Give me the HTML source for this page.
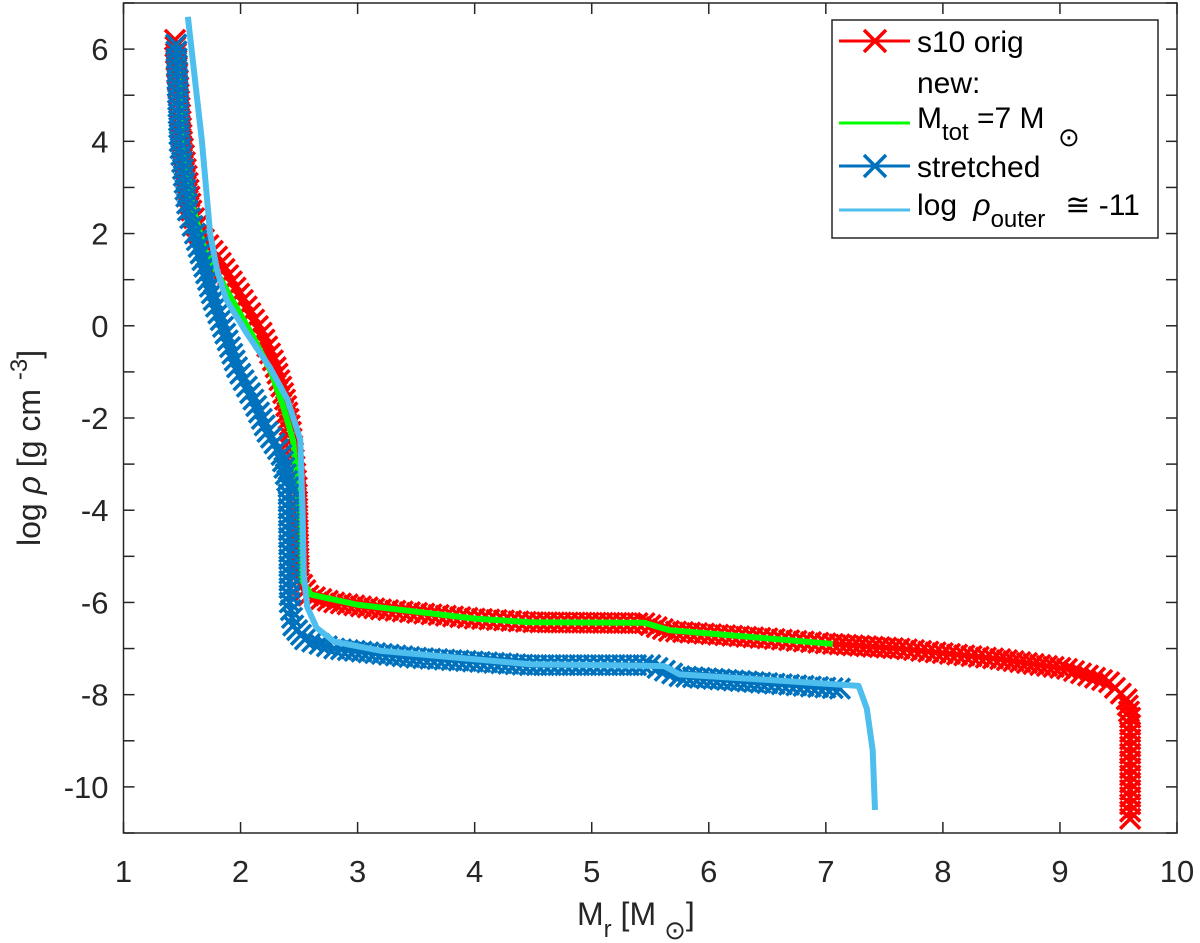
<!DOCTYPE html>
<html><head><meta charset="utf-8"><style>
body{margin:0;background:#fff}
svg{display:block;font-family:"Liberation Sans",sans-serif}
</style></head><body>
<svg id="chart" width="1200" height="943" viewBox="0 0 1200 943">
<g id="marks"></g>
<g id="axes"></g>
</svg>
<script>
const xTicks=[1,2,3,4,5,6,7,8,9,10];
const yTicks=[-10,-8,-6,-4,-2,0,2,4,6];
const yMinor=[-11,-10,-9,-8,-7,-6,-5,-4,-3,-2,-1,0,1,2,3,4,5,6,7];
const origX=[1.44,1.5,1.58,1.65,1.8,2.02,2.18,2.3,2.38,2.43,2.48,2.5,2.58,2.8,3.2,4,4.5,5.45,5.66,6.5,7.06,7.63,8.49,9.06,9.42,9.57,9.6,9.6];
const origY=[6.2,4,2.5,2,1.5,0.56,-0.15,-0.9,-1.6,-2.3,-3.5,-5.5,-5.85,-6.0,-6.15,-6.35,-6.43,-6.45,-6.62,-6.78,-6.9,-7.0,-7.23,-7.44,-7.73,-8.1,-8.5,-10.69];
const newX=[1.45,1.5,1.6,1.7,1.92,2.1,2.26,2.37,2.45,2.5,2.52,2.6,3,4,4.47,5.45,5.66,7.06];
const newY=[6.1,4,2.5,1.6,0.6,-0.2,-1.0,-1.8,-2.5,-4,-5.5,-5.83,-6.05,-6.35,-6.43,-6.44,-6.6,-6.9];
const strX=[1.45,1.48,1.55,1.61,1.77,1.97,2.11,2.23,2.35,2.41,2.42,2.45,2.55,2.8,3.5,4.47,5.5,5.75,6.5,7.12];
const strY=[6.1,4,2.5,2,0.56,-0.9,-1.6,-2.3,-2.8,-3.5,-6.0,-6.5,-6.8,-7.0,-7.2,-7.36,-7.36,-7.6,-7.75,-7.87];
const outX=[1.55,1.67,1.74,1.8,1.88,2.05,2.25,2.4,2.51,2.53,2.54,2.57,2.65,2.8,3.2,4.47,5.07,5.62,5.75,6.5,7.28,7.35,7.4,7.42];
const outY=[6.7,4,2,1.2,0.56,-0.15,-0.9,-1.6,-2.47,-4,-5.4,-6.1,-6.55,-6.85,-7.05,-7.34,-7.36,-7.38,-7.56,-7.68,-7.81,-8.3,-9.2,-10.5];

const L=123.5,R=1177,T=3,B=833,xmin=1,xmax=10,ymin=-11,ymax=7;
const X=v=>L+(v-xmin)*(R-L)/(xmax-xmin);
const Y=v=>B-(v-ymin)*(B-T)/(ymax-ymin);
const NS='http://www.w3.org/2000/svg';
const marks=document.getElementById('marks'),axes=document.getElementById('axes');
function mk(tag,attrs,parent){const e=document.createElementNS(NS,tag);for(const k in attrs)e.setAttribute(k,attrs[k]);parent.appendChild(e);return e;}
function pts(xs,ys){return xs.map((x,i)=>X(x)+','+Y(ys[i])).join(' ');}
function series(xs,ys,color,w,name,markers){
  const g=mk('g',{},marks);
  
  
  const pl=mk('polyline',{points:pts(xs,ys),fill:'none',stroke:color,'stroke-width':w,'stroke-linejoin':'round'},g);
  
  
  if(markers){
    let d='';const s=10;
    const add=(px,py)=>{d+=`M${px-s},${py-s}L${px+s},${py+s}M${px-s},${py+s}L${px+s},${py-s}`;};
    for(let i=0;i<xs.length-1;i++){
      const x0=X(xs[i]),y0=Y(ys[i]),x1=X(xs[i+1]),y1=Y(ys[i+1]);
      const len=Math.hypot(x1-x0,y1-y0),n=Math.max(1,Math.round(len/7));
      for(let k=0;k<n;k++)add(x0+(x1-x0)*k/n,y0+(y1-y0)*k/n);
    }
    add(X(xs[xs.length-1]),Y(ys[ys.length-1]));
    const m=mk('path',{d:d,stroke:color,'stroke-width':3.5,fill:'none'},g);
    
    
  }
}
series(origX,origY,'#ff0000',3,'s10-orig-series',true);
series(newX,newY,'#00ff00',6,'mtot-7-series',false);
series(strX,strY,'#0072bd',3,'stretched-series',true);
series(outX,outY,'#4dbeee',6,'log-rho-outer-series',false);

const box=mk('rect',{x:L,y:T,width:R-L,height:B-T,fill:'none',stroke:'#262626','stroke-width':1.5},axes);


xTicks.forEach(v=>{
  const x=X(v);
  mk('line',{x1:x,y1:B,x2:x,y2:B-11,stroke:'#262626','stroke-width':1.5},axes);
  mk('line',{x1:x,y1:T,x2:x,y2:T+11,stroke:'#262626','stroke-width':1.5},axes);
  const t=mk('text',{x:x,y:B+49,'text-anchor':'middle','font-size':31,fill:'#262626'},axes);
  t.textContent=v;
  
  
});
yMinor.forEach(v=>{
  const y=Y(v);
  mk('line',{x1:L,y1:y,x2:L+11,y2:y,stroke:'#262626','stroke-width':1.5},axes);
  mk('line',{x1:R,y1:y,x2:R-11,y2:y,stroke:'#262626','stroke-width':1.5},axes);
});
yTicks.forEach(v=>{
  const t=mk('text',{x:L-15,y:Y(v)+11,'text-anchor':'end','font-size':31,fill:'#262626'},axes);
  t.textContent=v;
  
  
});
</script>
<svg width="1200" height="943" style="position:absolute;left:0;top:0">
<g font-family="Liberation Sans, sans-serif" fill="#262626">
<text x="577" y="925" font-size="32">M<tspan font-size="24" dy="12">r</tspan><tspan dy="-12"> [M</tspan><tspan font-size="26" dy="14" dx="8">⊙</tspan><tspan dy="-14">]</tspan></text>
<text transform="translate(40,546) rotate(-90)" font-size="32">log  <tspan font-style="italic">ρ</tspan> [g cm <tspan font-size="24" dy="-13">-3</tspan><tspan dy="13">]</tspan></text>
</g>
<g>
<rect x="832" y="20" width="326" height="218" fill="#fff" stroke="#262626" stroke-width="1.5"/>
<g>
<line x1="839" y1="41" x2="910" y2="41" stroke="#ff0000" stroke-width="3"/>
<path d="M864,30L886,52M864,52L886,30" stroke="#ff0000" stroke-width="3.5"/>
<text x="917" y="52" font-size="30" font-family="Liberation Sans, sans-serif" fill="#000">s10 orig</text></g>
<text x="917" y="93" font-size="30" font-family="Liberation Sans, sans-serif" fill="#000">new:</text>
<g>
<line x1="839" y1="123" x2="910" y2="123" stroke="#00ff00" stroke-width="3"/>
<text x="917" y="128" font-size="30" font-family="Liberation Sans, sans-serif" fill="#000">M<tspan font-size="24" dy="12">tot</tspan><tspan dy="-12"> =7 M</tspan></text>
<text x="1058" y="146" font-size="26" font-family="Liberation Sans, sans-serif" fill="#000">⊙</text></g>
<g>
<line x1="839" y1="166" x2="910" y2="166" stroke="#0072bd" stroke-width="3"/>
<path d="M864,155L886,177M864,177L886,155" stroke="#0072bd" stroke-width="3.5"/>
<text x="917" y="177" font-size="30" font-family="Liberation Sans, sans-serif" fill="#000">stretched</text></g>
<g>
<line x1="839" y1="210" x2="910" y2="210" stroke="#4dbeee" stroke-width="3"/>
<text x="917" y="215" font-size="30" font-family="Liberation Sans, sans-serif" fill="#000">log  <tspan font-style="italic" dx="8">ρ</tspan><tspan font-size="24" dy="12">outer</tspan><tspan dy="-12" dx="20">≅ -11</tspan></text></g>
</g>
</svg>
</body></html>
